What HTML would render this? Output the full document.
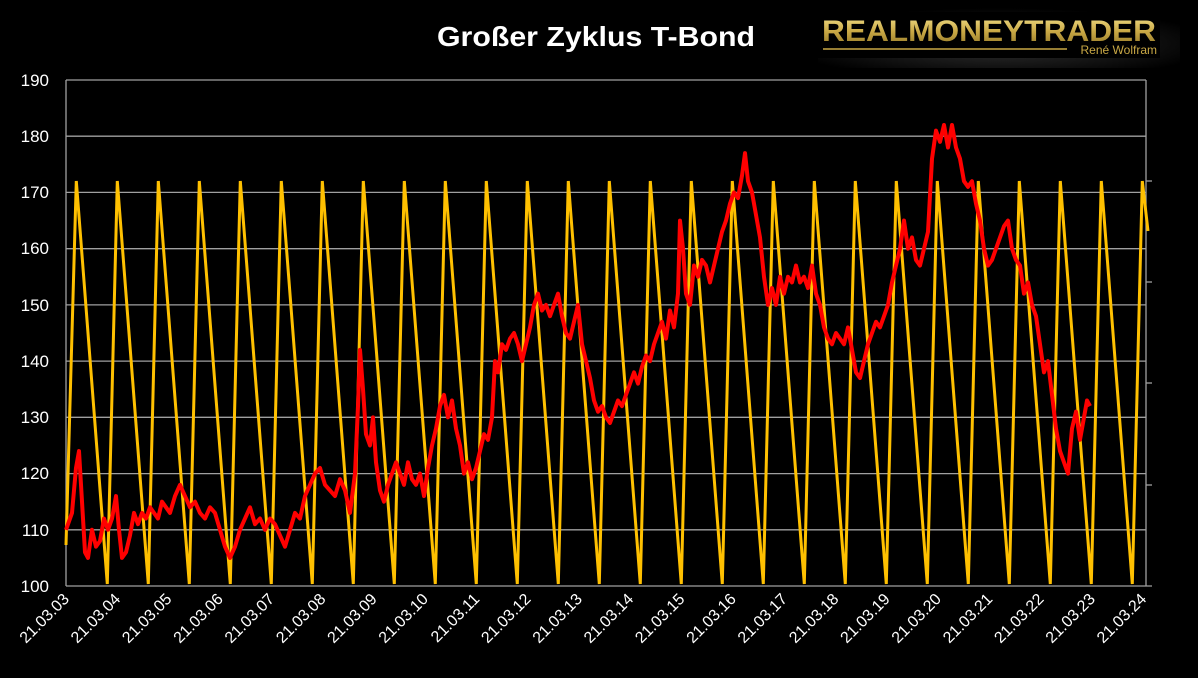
<!DOCTYPE html>
<html><head><meta charset="utf-8"><style>
html,body{margin:0;padding:0;background:#000;}
svg{display:block;}
</style></head><body>
<svg width="1198" height="678" viewBox="0 0 1198 678" xmlns="http://www.w3.org/2000/svg">
<rect width="1198" height="678" fill="#000"/>
<text x="596" y="46" fill="#fff" font-family="Liberation Sans, sans-serif" font-weight="bold" font-size="28" text-anchor="middle" textLength="318" lengthAdjust="spacingAndGlyphs">Großer Zyklus  T-Bond</text>
<defs><linearGradient id="g" x1="0" y1="0" x2="0" y2="1"><stop offset="0" stop-color="#f3e08a"/><stop offset="0.5" stop-color="#c9a845"/><stop offset="1" stop-color="#8f7425"/></linearGradient>
<radialGradient id="sh" cx="0.5" cy="0.6" r="0.6"><stop offset="0" stop-color="#333"/><stop offset="1" stop-color="#000"/></radialGradient></defs>
<rect x="818" y="8" width="362" height="60" fill="url(#sh)"/>
<rect x="818" y="12" width="342" height="46" fill="#000"/>
<text x="989" y="41" fill="url(#g)" font-family="Liberation Sans, sans-serif" font-weight="bold" font-size="30" text-anchor="middle" textLength="334" lengthAdjust="spacingAndGlyphs">REALMONEYTRADER</text>
<line x1="823" y1="49" x2="1067" y2="49" stroke="#c9a845" stroke-width="1.5"/>
<text x="1157" y="54" fill="#c9a845" font-family="Liberation Sans, sans-serif" font-size="12" text-anchor="end">René Wolfram</text>
<g stroke="#a0a0a0" stroke-width="1.3">
<line x1="66" y1="80" x2="1146" y2="80"/><line x1="66" y1="136.2" x2="1146" y2="136.2"/><line x1="66" y1="192.4" x2="1146" y2="192.4"/><line x1="66" y1="248.7" x2="1146" y2="248.7"/><line x1="66" y1="304.9" x2="1146" y2="304.9"/><line x1="66" y1="361.1" x2="1146" y2="361.1"/><line x1="66" y1="417.3" x2="1146" y2="417.3"/><line x1="66" y1="473.6" x2="1146" y2="473.6"/><line x1="66" y1="529.8" x2="1146" y2="529.8"/><line x1="66" y1="586" x2="1152" y2="586"/>
<line x1="66" y1="80" x2="66" y2="586"/><line x1="1146" y1="80" x2="1146" y2="586"/>
<line x1="1146" y1="181" x2="1152" y2="181"/><line x1="1146" y1="282" x2="1152" y2="282"/><line x1="1146" y1="383" x2="1152" y2="383"/><line x1="1146" y1="485" x2="1152" y2="485"/>
</g>
<g fill="#fff" font-family="Liberation Sans, sans-serif" font-size="17" text-anchor="end">
<text x="49" y="86">190</text><text x="49" y="142">180</text><text x="49" y="198">170</text><text x="49" y="254">160</text><text x="49" y="311">150</text><text x="49" y="367">140</text><text x="49" y="423">130</text><text x="49" y="479">120</text><text x="49" y="536">110</text><text x="49" y="592">100</text>
</g>
<g fill="#fff" font-family="Liberation Sans, sans-serif" font-size="16" text-anchor="end">
<text x="70" y="600" transform="rotate(-45 70 600)">21.03.03</text>
<text x="121.3" y="600" transform="rotate(-45 121.3 600)">21.03.04</text>
<text x="172.6" y="600" transform="rotate(-45 172.6 600)">21.03.05</text>
<text x="223.9" y="600" transform="rotate(-45 223.9 600)">21.03.06</text>
<text x="275.2" y="600" transform="rotate(-45 275.2 600)">21.03.07</text>
<text x="326.5" y="600" transform="rotate(-45 326.5 600)">21.03.08</text>
<text x="377.8" y="600" transform="rotate(-45 377.8 600)">21.03.09</text>
<text x="429.1" y="600" transform="rotate(-45 429.1 600)">21.03.10</text>
<text x="480.4" y="600" transform="rotate(-45 480.4 600)">21.03.11</text>
<text x="531.7" y="600" transform="rotate(-45 531.7 600)">21.03.12</text>
<text x="583" y="600" transform="rotate(-45 583 600)">21.03.13</text>
<text x="634.3" y="600" transform="rotate(-45 634.3 600)">21.03.14</text>
<text x="685.6" y="600" transform="rotate(-45 685.6 600)">21.03.15</text>
<text x="736.9" y="600" transform="rotate(-45 736.9 600)">21.03.16</text>
<text x="788.2" y="600" transform="rotate(-45 788.2 600)">21.03.17</text>
<text x="839.5" y="600" transform="rotate(-45 839.5 600)">21.03.18</text>
<text x="890.8" y="600" transform="rotate(-45 890.8 600)">21.03.19</text>
<text x="942.1" y="600" transform="rotate(-45 942.1 600)">21.03.20</text>
<text x="993.4" y="600" transform="rotate(-45 993.4 600)">21.03.21</text>
<text x="1044.7" y="600" transform="rotate(-45 1044.7 600)">21.03.22</text>
<text x="1096" y="600" transform="rotate(-45 1096 600)">21.03.23</text>
<text x="1147.3" y="600" transform="rotate(-45 1147.3 600)">21.03.24</text>
</g>
<polyline fill="none" stroke="#ffc000" stroke-width="3" points="66,545 76.3,181 107.3,584 117.3,181 148.3,584 158.3,181 189.3,584 199.3,181 230.3,584 240.3,181 271.3,584 281.3,181 312.3,584 322.3,181 353.3,584 363.3,181 394.3,584 404.3,181 435.3,584 445.3,181 476.3,584 486.3,181 517.3,584 527.3,181 558.3,584 568.3,181 599.3,584 609.3,181 640.3,584 650.3,181 681.3,584 691.3,181 722.3,584 732.3,181 763.3,584 773.3,181 804.3,584 814.3,181 845.3,584 855.3,181 886.3,584 896.3,181 927.3,584 937.3,181 968.3,584 978.3,181 1009.3,584 1019.3,181 1050.3,584 1060.3,181 1091.3,584 1101.3,181 1132.3,584 1142.3,181 1148,231"/>
<g transform="translate(0,1148.2) scale(1,-5.622)">
<polyline fill="none" stroke="#ff0000" stroke-width="4" stroke-linejoin="round" vector-effect="non-scaling-stroke" points="66,110 72,113 76,121 79,124 82,115 85,106 88,105 92,110 96,107 100,108 104,112 108,110 112,112 116,116 119,110 122,105 126,106 130,109 134,113 138,111 142,113 146,112 150,114 154,113 158,112 162,115 166,114 170,113 175,116 180,118 185,116 190,114 195,115 200,113 205,112 210,114 215,113 220,110 225,107 230,105 235,107 240,110 245,112 250,114 255,111 260,112 265,110 270,112 275,111 280,109 285,107 290,110 295,113 300,112 305,116 310,118 315,120 320,121 325,118 330,117 335,116 340,119 345,117 350,113 355,120 358,132 360,142 363,135 366,127 370,125 373,130 376,122 380,117 384,115 388,118 392,120 396,122 400,120 404,118 408,122 412,119 416,118 420,120 424,116 428,121 432,125 436,128 440,132 444,134 448,130 452,133 456,128 460,125 464,120 468,122 472,119 476,121 480,124 484,127 488,126 492,130 495,140 498,138 502,143 506,142 510,144 514,145 518,143 522,140 526,143 530,146 534,150 538,152 542,149 546,150 550,148 554,150 558,152 562,148 566,145 570,144 574,147 578,150 582,143 586,140 590,137 594,133 598,131 602,132 606,130 610,129 614,131 618,133 622,132 626,134 630,136 634,138 638,136 642,139 646,141 650,140 654,143 658,145 662,147 666,144 670,149 674,146 678,152 680,165 683,160 686,152 690,150 694,157 698,155 702,158 706,157 710,154 714,157 718,160 722,163 726,165 730,168 734,170 738,169 742,173 745,177 748,172 752,170 756,166 760,162 764,155 768,150 772,153 776,150 780,155 784,152 788,155 792,154 796,157 800,154 804,155 808,153 812,157 816,152 820,150 824,146 828,144 832,143 836,145 840,144 844,143 848,146 852,142 856,138 860,137 864,140 868,143 872,145 876,147 880,146 884,148 888,150 892,154 896,157 900,160 904,165 908,160 912,162 916,158 920,157 924,160 928,163 932,176 936,181 940,179 944,182 948,178 952,182 956,178 960,176 964,172 968,171 972,172 976,168 980,165 984,160 988,157 992,158 996,160 1000,162 1004,164 1008,165 1012,160 1016,158 1020,157 1024,152 1028,154 1032,150 1036,148 1040,143 1044,138 1048,140 1052,134 1056,128 1060,124 1064,122 1068,120 1072,128 1076,131 1080,126 1084,130 1087,133 1090,132"/>
</g>
</svg>
</body></html>
